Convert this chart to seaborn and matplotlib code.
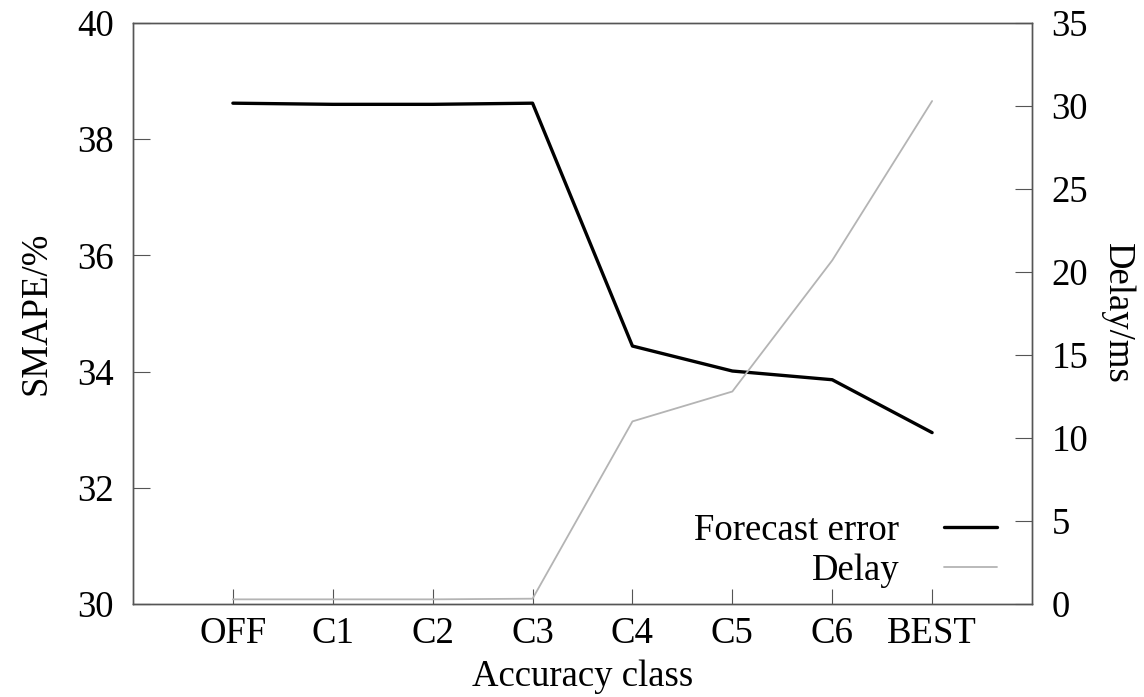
import matplotlib
matplotlib.use("Agg")
import matplotlib.pyplot as plt
import seaborn as sns
import pandas as pd

categories = ["OFF", "C1", "C2", "C3", "C4", "C5", "C6", "BEST"]
smape = [38.62, 38.60, 38.60, 38.62, 34.44, 34.01, 33.86, 32.95]
delay = [0.28, 0.28, 0.28, 0.32, 11.0, 12.8, 20.7, 30.3]
smape_ticks = [30, 32, 34, 36, 38, 40]
delay_ticks = [0, 5, 10, 15, 20, 25, 30, 35]

sns.set_theme(style="white")
plt.rcParams["font.family"] = ["Liberation Serif", "DejaVu Serif"]
plt.rcParams["text.color"] = "black"
plt.rcParams["axes.labelcolor"] = "black"
plt.rcParams["xtick.color"] = "black"
plt.rcParams["ytick.color"] = "black"

FS = 26.5
df = pd.DataFrame({"cls": categories, "smape": smape, "delay": delay})

fig = plt.figure(figsize=(11.44, 6.97), dpi=100)
ax = fig.add_axes([133 / 1144, 1 - 604 / 697, (1032 - 133) / 1144, (604 - 23) / 697])
ax2 = ax.twinx()

sns.lineplot(data=df, x="cls", y="smape", ax=ax, color="black", linewidth=2.4, sort=False)
sns.lineplot(data=df, x="cls", y="delay", ax=ax2, color="#b4b4b4", linewidth=1.3, sort=False)

ax.set_xlim(-1, 8)
ax.set_ylim(30, 40)
ax2.set_ylim(0, 35)
ax.set_yticks(smape_ticks)
ax2.set_yticks(delay_ticks)
ax.set_xticks(range(len(categories)))
ax.set_xticklabels(categories)

spine_col = "#555555"
for a in (ax, ax2):
    for s in a.spines.values():
        s.set_color(spine_col)
        s.set_linewidth(1.0)
        s.set_visible(True)

ax.tick_params(axis="x", direction="in", length=11, width=0.8, color=spine_col,
               labelcolor="black", labelsize=FS, pad=9, top=False, bottom=True)
ax.tick_params(axis="y", direction="in", length=12, width=0.8, color=spine_col,
               labelcolor="black", labelsize=FS, pad=14, left=True, right=False)
ax2.tick_params(axis="y", direction="in", length=12, width=0.8, color=spine_col,
                labelcolor="black", labelsize=FS, pad=14, right=True, left=False)

ax.set_xlabel("Accuracy class", fontsize=FS, labelpad=6, color="black")
ax.set_ylabel("SMAPE/%", fontsize=FS, labelpad=17, color="black")
ax2.set_ylabel("Delay/ms", fontsize=FS, rotation=-90, labelpad=33, color="black")

handles = [ax.lines[0], ax2.lines[0]]
leg = fig.legend(handles, ["Forecast error", "Delay"], loc="lower right",
                 bbox_to_anchor=(997 / 1144, 1 - 588 / 697), frameon=False,
                 markerfirst=False, fontsize=FS, handlelength=1.45, handletextpad=1.2,
                 labelspacing=0.15, borderpad=0, borderaxespad=0)
for t in leg.get_texts():
    t.set_color("black")

fig.savefig("out.png", dpi=100)
